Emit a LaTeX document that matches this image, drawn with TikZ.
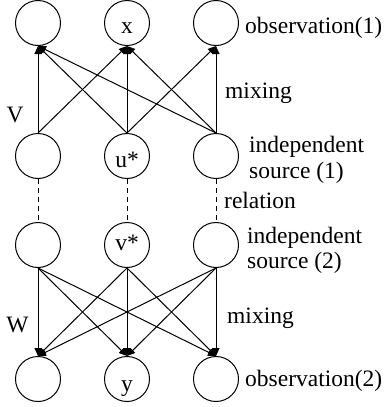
\documentclass[tikz,border=0pt]{standalone}
\usepackage{fontspec}
\setmainfont{Liberation Serif}
\usetikzlibrary{arrows.meta}
\begin{document}
\begin{tikzpicture}[x=1pt,y=-1pt,
  unit/.style={draw,circle,line width=1pt,minimum size=45pt,inner sep=0pt},
  lbl/.style={inner sep=0pt,font=\fontsize{23.5}{26}\selectfont},
  arr/.style={line width=1pt,-{Triangle[length=8pt,width=7pt]}},
  rel/.style={line width=1pt,dash pattern=on 5pt off 4pt}]
\useasboundingbox (0,0) rectangle (384,407);
% nodes
\node[unit] (o1a) at (38,23) {};
\node[unit] (o1b) at (127,23) {};
\node[unit] (o1c) at (216,23) {};
\node[unit] (s1a) at (38,156) {};
\node[unit] (s1b) at (127,156) {};
\node[unit] (s1c) at (216,156) {};
\node[unit] (s2a) at (38,245) {};
\node[unit] (s2b) at (127,245) {};
\node[unit] (s2c) at (216,245) {};
\node[unit] (o2a) at (38,379) {};
\node[unit] (o2b) at (127,379) {};
\node[unit] (o2c) at (216,379) {};
% inner labels
\node[lbl,anchor=base] (tx) at (127,33) {x};
\node[lbl,anchor=base] (tu) at (127,167) {u*};
\node[lbl,anchor=base] (tv) at (127,250) {v*};
\node[lbl,anchor=base] (ty) at (127,391) {y};
% side labels
\node[lbl,anchor=base] (tV) at (15,122) {V};
\node[lbl,anchor=base] (tW) at (17.5,332) {W};
\node[lbl,anchor=base west] (tob1) at (245,33) {observation(1)};
\node[lbl,anchor=base west] (tmx1) at (225,98) {mixing};
\node[lbl,anchor=base west] (tin1) at (249,152) {independent};
\node[lbl,anchor=base west] (tso1) at (249,178) {source (1)};
\node[lbl,anchor=base west] (trel) at (224,208) {relation};
\node[lbl,anchor=base west] (tin2) at (247,243) {independent};
\node[lbl,anchor=base west] (tso2) at (247,268) {source (2)};
\node[lbl,anchor=base west] (tmx2) at (227,323) {mixing};
\node[lbl,anchor=base west] (tob2) at (245,386) {observation(2)};
% top mixing
\draw[arr] (s1a.north) -- (o1a.south);
\draw[arr] (s1a.north) -- (o1b.south);
\draw[arr] (s1b.north) -- (o1a.south);
\draw[arr] (s1b.north) -- (o1b.south);
\draw[arr] (s1b.north) -- (o1c.south);
\draw[arr] (s1c.north) -- (o1a.south);
\draw[arr] (s1c.north) -- (o1b.south);
\draw[arr] (s1c.north) -- (o1c.south);
% relation
\draw[rel] (s1a.south) -- (s2a.north);
\draw[rel] (s1b.south) -- (s2b.north);
\draw[rel] (s1c.south) -- (s2c.north);
% bottom mixing
\foreach \s in {s2a,s2b,s2c}{
  \foreach \t in {o2a,o2b,o2c}{
    \draw[arr] (\s.south) -- (\t.north);
  }
}
\end{tikzpicture}
\end{document}
